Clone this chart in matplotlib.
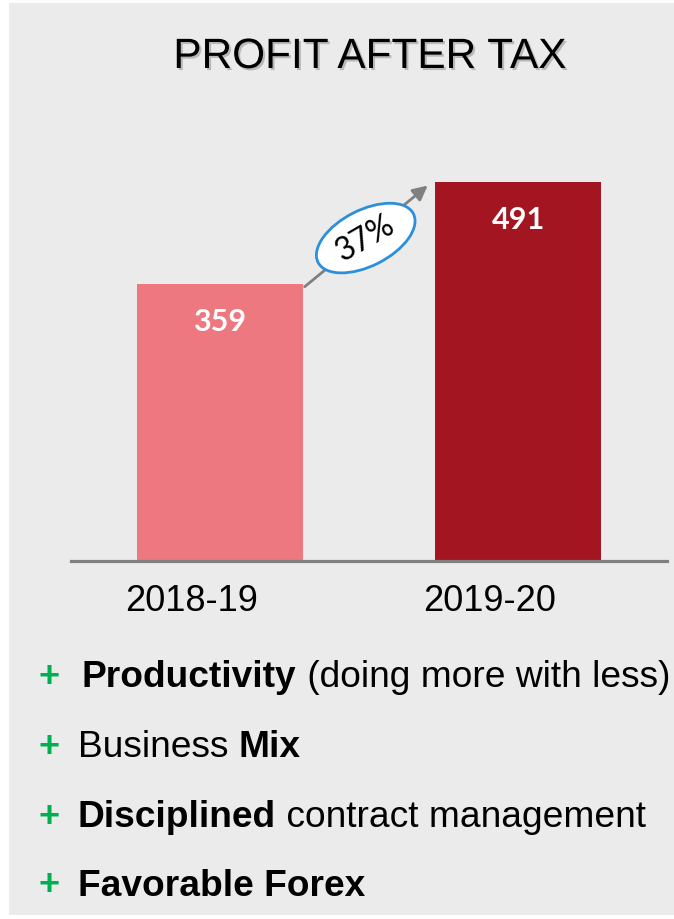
import matplotlib
matplotlib.use('Agg')
import matplotlib.pyplot as plt
import matplotlib.patheffects as pe
import matplotlib.transforms as mtransforms
from matplotlib.patches import Ellipse, Rectangle

# data
years = ['2018-19', '2019-20']
pat_values = [359, 491]
bar_colors = ['#EE7880', '#A31621']
drivers = [
    [('Productivity', 'bold'), (' (doing more with less)', 'normal')],
    [('Business ', 'normal'), ('Mix', 'bold')],
    [('Disciplined', 'bold'), (' contract management', 'normal')],
    [('Favorable Forex', 'bold')],
]

W, H = 674, 919
fig = plt.figure(figsize=(W / 100, H / 100), dpi=100, facecolor='white')

# grey slide panel
fig.patches.append(Rectangle((9 / W, 4 / H), 1 - 9 / W, 1 - 7 / H,
                             transform=fig.transFigure, facecolor='#EBEBEB',
                             edgecolor='none', zorder=-10))

ax = fig.add_axes([71 / W, (H - 561) / H, 596 / W, 411 / H])
ax.set_zorder(1)
ax.patch.set_visible(False)
x = list(range(len(years)))
ax.bar(x, pat_values, width=0.555, color=bar_colors, zorder=2)
ax.set_xlim(-0.5, 1.5)
ax.set_ylim(0, 532)
for s in ['top', 'right', 'left']:
    ax.spines[s].set_visible(False)
ax.spines['bottom'].set_color('#808080')
ax.spines['bottom'].set_linewidth(2.3)
ax.set_xticks([])
ax.set_yticks([])

# value labels inside bars
for xi, v in zip(x, pat_values):
    ax.text(xi, v - 50, str(v), ha='center', va='center', color='white',
            fontsize=22, fontweight='bold', family='Lato', zorder=3)

# category labels (sit a little left of the bar centres)
for xi, lab in zip(x, years):
    ax.text(xi - 0.095, -53, lab, ha='center', va='center', fontsize=26,
            family='Liberation Sans', clip_on=False)

# growth arrow + ellipse
ax.annotate('', xy=(0.697, 486), xytext=(0.284, 355),
            arrowprops=dict(arrowstyle='-|>', color='#808080', lw=2,
                            mutation_scale=22, shrinkA=0, shrinkB=0), zorder=4)
growth = round((pat_values[1] / pat_values[0] - 1) * 100)
cx, cy = 0.489, 418
ell = Ellipse((0, 0), 1.07, 0.56, angle=27,
              transform=fig.dpi_scale_trans + mtransforms.ScaledTranslation(cx, cy, ax.transData),
              facecolor='white', edgecolor='#2C8FDB', lw=2, zorder=5)
ax.add_patch(ell)
ax.text(cx, cy, f'{growth}%', rotation=30, ha='center', va='center',
        fontsize=23, family='Lato', zorder=6)

# title
fig.text(370 / W, 1 - 57 / H, 'PROFIT AFTER TAX', ha='center', va='center',
         fontsize=30.5, family='Liberation Sans',
         path_effects=[pe.SimplePatchShadow(offset=(1.5, -1.5), shadow_rgbFace='#888888', alpha=0.5),
                       pe.Normal()])

# driver bullets, bold / regular pieces laid out one after another
line_y = [687, 757, 827, 896]   # baselines in pixels from top
renderer = fig.canvas.get_renderer()
for yy, parts in zip(line_y, drivers):
    fig.text(49 / W, 1 - (yy - 10) / H, '+', ha='center', va='center', fontsize=26,
             fontweight='bold', color='#00B050', family='Liberation Sans')
    xpos = (82 if parts[0][0] == 'Productivity' else 78) / W
    for txt, wt in parts:
        t = fig.text(xpos, 1 - yy / H, txt, ha='left', va='baseline',
                     fontsize=26.7, fontweight=wt, family='Liberation Sans')
        bb = t.get_window_extent(renderer)
        xpos = bb.x1 / fig.bbox.width

fig.savefig('out.png', dpi=100, facecolor='white')
